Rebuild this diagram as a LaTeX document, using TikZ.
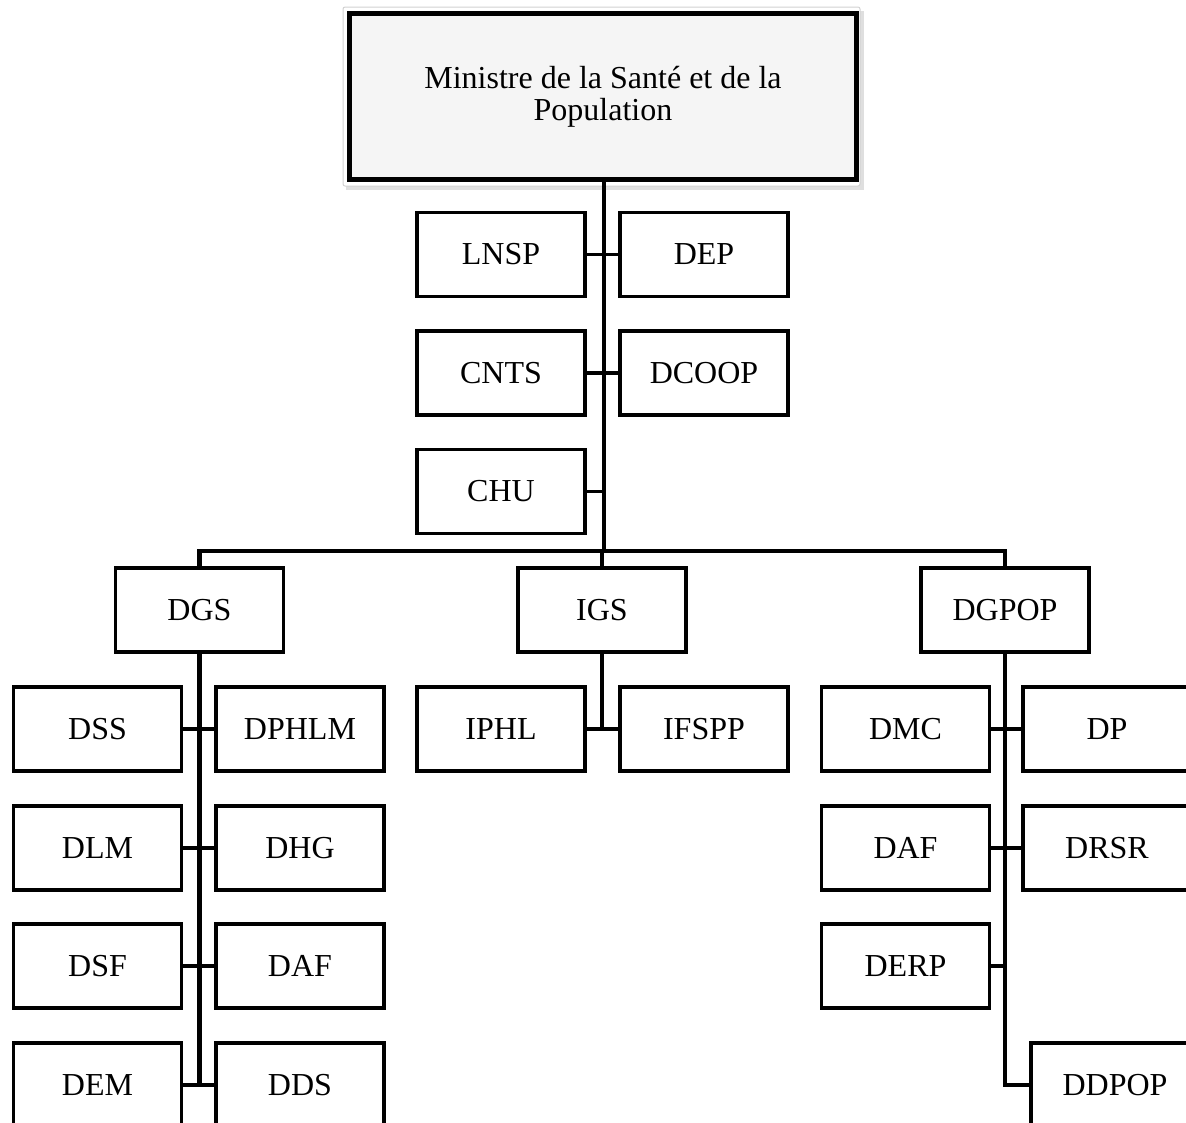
\documentclass[tikz,border=0pt]{standalone}
\usepackage{fontspec}
\setmainfont{Liberation Serif}
\begin{document}
\begin{tikzpicture}[x=1pt,y=-1pt,
  unit/.style={draw=black,line width=3.5pt,fill=white,minimum width=168pt,minimum height=84pt,inner sep=0pt,font=\fontsize{32}{34}\selectfont},
  link/.style={line width=4.5pt,line cap=butt},
  branch/.style={line width=3.5pt}]
\useasboundingbox (0,0) rectangle (1186,1122);
\clip (0,0) rectangle (1186,1122);
% top box with light shadow frame
\fill[gray!25] (346,11) rectangle (864,190);
\filldraw[fill=white,draw=gray!35,line width=1pt,rounded corners=2pt] (343,7) rectangle (860,186);
\node[draw=black,line width=5pt,fill=gray!8,minimum width=507pt,minimum height=166pt,inner sep=0pt,align=center,font=\fontsize{32}{32}\selectfont] (min) at (603,96.5) {Ministre de la Santé et de la\\Population};
% level 1 units
\node[unit] (lnsp) at (501,254.5) {LNSP};
\node[unit] (dep) at (704,254.5) {DEP};
\node[unit] (cnts) at (501,373) {CNTS};
\node[unit] (dcoop) at (704,373) {DCOOP};
\node[unit] (chu) at (501,491.5) {CHU};
\coordinate (j0) at (604,551);
% directorates
\node[unit] (dgs) at (199.5,610) {DGS};
\node[unit] (igs) at (602,610) {IGS};
\node[unit] (dgpop) at (1005,610) {DGPOP};
% DGS children
\node[unit] (dss) at (97.5,729) {DSS};
\node[unit] (dphlm) at (300,729) {DPHLM};
\node[unit] (dlm) at (97.5,848) {DLM};
\node[unit] (dhg) at (300,848) {DHG};
\node[unit] (dsf) at (97.5,966) {DSF};
\node[unit] (daf) at (300,966) {DAF};
\node[unit] (dem) at (97.5,1085) {DEM};
\node[unit] (dds) at (300,1085) {DDS};
% IGS children
\node[unit] (iphl) at (501,729) {IPHL};
\node[unit] (ifspp) at (704,729) {IFSPP};
% DGPOP children
\node[unit] (dmc) at (905.5,729) {DMC};
\node[unit] (dp) at (1107,729) {DP};
\node[unit] (dafp) at (905.5,848) {DAF};
\node[unit] (drsr) at (1107,848) {DRSR};
\node[unit] (derp) at (905.5,966) {DERP};
\node[unit] (ddpop) at (1115,1085) {DDPOP};
% connectors
\draw[link] (min.south -| j0) -- (j0);
\draw[branch] (lnsp.east) -- (dep.west);
\draw[branch] (cnts.east) -- (dcoop.west);
\draw[branch] (chu.east) -- (chu.east -| j0);
\draw[link] (dgs.north) |- (j0) -| (dgpop.north);
\draw[link] (igs.north) -- (igs.north |- j0);
\draw[link] (dgs.south) -- (dgs.south |- dem.east);
\draw[branch] (dss.east) -- (dphlm.west);
\draw[branch] (dlm.east) -- (dhg.west);
\draw[branch] (dsf.east) -- (daf.west);
\draw[branch] (dem.east) -- (dds.west);
\draw[link] (igs.south) -- (igs.south |- iphl.east);
\draw[branch] (iphl.east) -- (ifspp.west);
\draw[link] (dgpop.south) |- (ddpop.west);
\draw[branch] (dmc.east) -- (dp.west);
\draw[branch] (dafp.east) -- (drsr.west);
\draw[branch] (derp.east) -- (derp.east -| dgpop.south);
\end{tikzpicture}
\end{document}
